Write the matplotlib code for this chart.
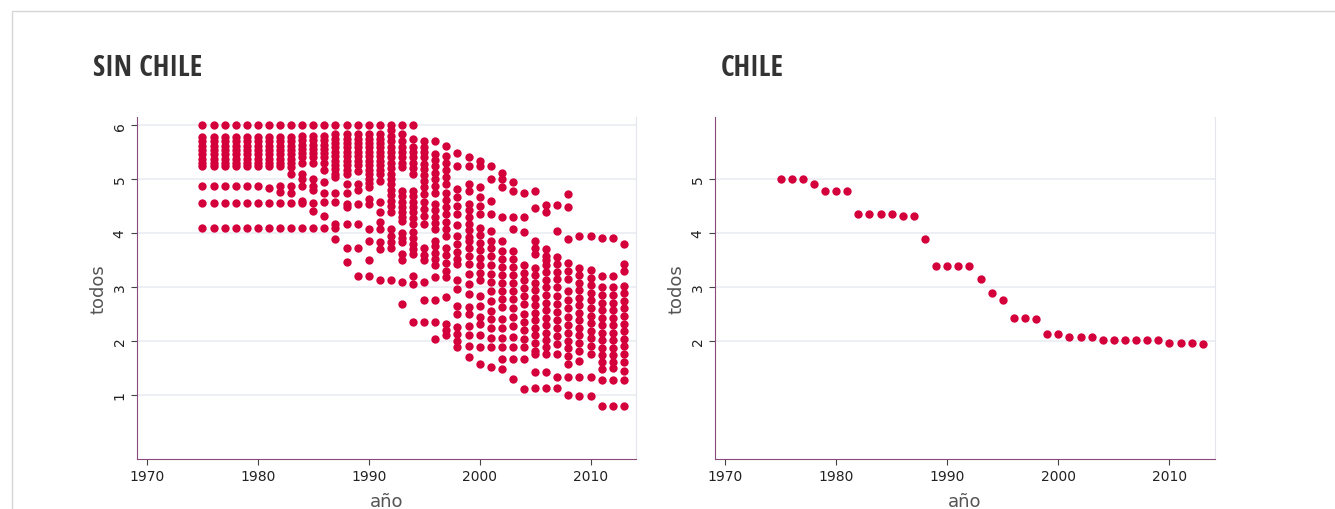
import matplotlib
matplotlib.use("Agg")
import matplotlib.pyplot as plt
from matplotlib import font_manager
from matplotlib.patches import Rectangle

# --- data ---
anios = list(range(1975, 2014))

# "todos" per year for the countries without Chile (one list per year)
sin_chile = [
    [6.0, 5.78, 5.7, 5.62, 5.54, 5.46, 5.38, 5.3, 5.25, 4.88, 4.55, 4.1],  # 1975
    [6.0, 5.78, 5.7, 5.62, 5.54, 5.46, 5.38, 5.3, 5.25, 4.88, 4.55, 4.1],  # 1976
    [6.0, 5.78, 5.7, 5.62, 5.54, 5.46, 5.38, 5.3, 5.25, 4.88, 4.55, 4.1],  # 1977
    [6.0, 5.78, 5.7, 5.62, 5.54, 5.46, 5.38, 5.3, 5.25, 4.88, 4.55, 4.1],  # 1978
    [6.0, 5.78, 5.7, 5.62, 5.54, 5.46, 5.38, 5.3, 5.25, 4.88, 4.55, 4.1],  # 1979
    [6.0, 5.78, 5.7, 5.62, 5.54, 5.46, 5.38, 5.3, 5.25, 4.88, 4.55, 4.1],  # 1980
    [6.0, 5.78, 5.7, 5.62, 5.54, 5.46, 5.38, 5.3, 5.25, 4.84, 4.55, 4.1],  # 1981
    [6.0, 5.78, 5.7, 5.62, 5.54, 5.46, 5.38, 5.3, 5.25, 4.88, 4.76, 4.55, 4.1],  # 1982
    [6.0, 5.78, 5.7, 5.62, 5.54, 5.46, 5.38, 5.3, 5.22, 5.1, 4.88, 4.75, 4.55, 4.1],  # 1983
    [6.0, 5.8, 5.72, 5.64, 5.56, 5.48, 5.4, 5.3, 5.1, 5.0, 4.88, 4.6, 4.55, 4.1],  # 1984
    [6.0, 5.8, 5.72, 5.64, 5.56, 5.48, 5.4, 5.3, 5.0, 4.88, 4.8, 4.55, 4.4, 4.1],  # 1985
    [6.0, 5.8, 5.72, 5.64, 5.56, 5.48, 5.4, 5.3, 5.16, 4.94, 4.75, 4.57, 4.32, 4.1],  # 1986
    [6.0, 5.83, 5.75, 5.67, 5.59, 5.5, 5.42, 5.34, 5.26, 5.18, 5.1, 5.03, 4.75, 4.57, 4.16, 4.1, 3.89],  # 1987
    [6.0, 5.83, 5.75, 5.67, 5.59, 5.5, 5.42, 5.34, 5.26, 5.17, 5.09, 4.91, 4.75, 4.54, 4.48, 4.17, 3.73, 3.46],  # 1988
    [6.0, 5.83, 5.75, 5.67, 5.59, 5.5, 5.42, 5.34, 5.26, 5.14, 4.91, 4.8, 4.54, 4.17, 3.73, 3.21],  # 1989
    [6.0, 5.83, 5.75, 5.67, 5.59, 5.5, 5.42, 5.34, 5.26, 5.17, 5.09, 5.0, 4.92, 4.85, 4.63, 4.54, 4.07, 3.86, 3.5, 3.21],  # 1990
    [6.0, 5.83, 5.75, 5.67, 5.59, 5.5, 5.42, 5.34, 5.26, 5.17, 5.09, 4.97, 4.57, 4.38, 4.2, 4.07, 3.83, 3.7, 3.12],  # 1991
    [6.0, 5.9, 5.8, 5.7, 5.6, 5.5, 5.4, 5.3, 5.2, 5.1, 5.0, 4.9, 4.8, 4.7, 4.6, 4.5, 4.38, 4.07, 3.95, 3.83, 3.73, 3.12],  # 1992
    [6.0, 5.83, 5.71, 5.59, 5.5, 5.4, 5.3, 5.22, 4.78, 4.68, 4.58, 4.48, 4.38, 4.3, 4.23, 4.0, 3.9, 3.83, 3.61, 3.49, 3.09, 2.69],  # 1993
    [6.0, 5.74, 5.59, 5.5, 5.4, 5.3, 5.2, 5.09, 4.78, 4.68, 4.58, 4.48, 4.38, 4.27, 4.17, 4.01, 3.9, 3.8, 3.7, 3.61, 3.21, 3.06, 2.35],  # 1994
    [5.71, 5.6, 5.5, 5.4, 5.28, 5.19, 5.08, 4.97, 4.86, 4.72, 4.57, 4.45, 4.32, 4.17, 3.73, 3.6, 3.49, 3.1, 2.75, 2.35],  # 1995
    [5.71, 5.46, 5.35, 5.24, 5.12, 5.0, 4.87, 4.75, 4.54, 4.42, 4.3, 4.18, 4.07, 3.86, 3.75, 3.63, 3.52, 3.4, 3.18, 2.75, 2.35, 2.04],  # 1996
    [5.62, 5.43, 5.3, 5.17, 5.04, 4.91, 4.75, 4.62, 4.48, 4.35, 4.2, 4.07, 3.95, 3.73, 3.6, 3.45, 3.3, 3.18, 2.81, 2.32, 2.2, 2.1],  # 1997
    [5.48, 5.25, 4.81, 4.66, 4.5, 4.35, 4.14, 3.95, 3.8, 3.65, 3.52, 3.43, 3.12, 2.96, 2.65, 2.5, 2.25, 2.12, 2.0, 1.88],  # 1998
    [5.4, 5.25, 4.91, 4.78, 4.54, 4.42, 4.3, 4.17, 4.05, 3.92, 3.86, 3.72, 3.58, 3.43, 3.24, 3.05, 2.87, 2.62, 2.5, 2.28, 2.1, 1.9, 1.7],  # 1999
    [5.34, 5.25, 4.85, 4.66, 4.5, 4.35, 4.1, 3.96, 3.82, 3.68, 3.54, 3.4, 3.26, 3.12, 2.84, 2.64, 2.44, 2.32, 2.1, 1.88, 1.57],  # 2000
    [5.25, 5.0, 4.6, 4.35, 4.04, 3.86, 3.72, 3.57, 3.4, 3.24, 3.09, 2.92, 2.74, 2.56, 2.41, 2.24, 2.06, 1.88, 1.51],  # 2001
    [5.12, 5.0, 4.85, 4.29, 3.86, 3.67, 3.52, 3.37, 3.22, 3.07, 2.92, 2.77, 2.62, 2.41, 2.24, 2.06, 1.88, 1.67, 1.48],  # 2002
    [4.94, 4.78, 4.29, 4.07, 3.67, 3.52, 3.37, 3.22, 3.07, 2.92, 2.77, 2.6, 2.44, 2.28, 2.08, 1.88, 1.67, 1.3],  # 2003
    [4.75, 4.29, 4.01, 3.4, 3.26, 3.12, 2.98, 2.84, 2.69, 2.5, 2.35, 2.2, 2.04, 1.88, 1.67, 1.11],  # 2004
    [4.77, 4.46, 3.86, 3.73, 3.61, 3.36, 3.22, 3.08, 2.94, 2.8, 2.66, 2.52, 2.38, 2.24, 2.1, 1.96, 1.82, 1.76, 1.43, 1.12],  # 2005
    [4.52, 4.38, 3.7, 3.58, 3.49, 3.41, 3.27, 3.13, 2.99, 2.85, 2.71, 2.57, 2.43, 2.29, 2.15, 2.01, 1.88, 1.76, 1.43, 1.12],  # 2006
    [4.51, 4.04, 3.55, 3.42, 3.28, 3.14, 2.99, 2.84, 2.69, 2.54, 2.39, 2.24, 2.09, 1.94, 1.76, 1.33, 1.12],  # 2007
    [4.72, 4.49, 3.89, 3.44, 3.3, 3.15, 2.93, 2.75, 2.6, 2.45, 2.3, 2.15, 2.0, 1.86, 1.72, 1.57, 1.33, 0.99],  # 2008
    [3.94, 3.36, 3.22, 3.08, 2.94, 2.8, 2.66, 2.52, 2.38, 2.24, 2.1, 1.96, 1.82, 1.63, 1.33, 0.97],  # 2009
    [3.94, 3.31, 3.17, 3.03, 2.89, 2.75, 2.61, 2.47, 2.33, 2.19, 2.05, 1.9, 1.76, 1.33, 0.97],  # 2010
    [3.91, 3.2, 2.99, 2.85, 2.71, 2.57, 2.43, 2.29, 2.15, 2.01, 1.87, 1.73, 1.6, 1.48, 1.28, 0.8],  # 2011
    [3.91, 3.2, 2.99, 2.85, 2.71, 2.57, 2.43, 2.29, 2.15, 2.01, 1.87, 1.73, 1.6, 1.5, 1.27, 0.8],  # 2012
    [3.8, 3.43, 3.3, 3.02, 2.88, 2.74, 2.6, 2.46, 2.32, 2.18, 2.04, 1.9, 1.76, 1.6, 1.45, 1.27, 0.79],  # 2013
]

chile = [5.0, 5.0, 5.0, 4.9, 4.77, 4.77, 4.77, 4.35, 4.35, 4.35, 4.35, 4.31, 4.31,
         3.88, 3.38, 3.38, 3.38, 3.38, 3.15, 2.89, 2.76, 2.43, 2.43, 2.40, 2.12,
         2.12, 2.07, 2.07, 2.07, 2.02, 2.02, 2.01, 2.01, 2.02, 2.01, 1.96, 1.96,
         1.96, 1.94]

xticks = [1970, 1980, 1990, 2000, 2010]
yticks_left = [1, 2, 3, 4, 5, 6]
yticks_right = [2, 3, 4, 5]

dot = '#d4003c'
axis_col = '#8c4a7c'
grid_col = '#e9eef3'
text_col = '#333333'

# narrowest installed family for the condensed headline
installed = {f.name for f in font_manager.fontManager.ttflist}
title_family = ['DejaVu Sans']
for name in ['Liberation Sans Narrow', 'DejaVu Sans Condensed', 'Open Sans Condensed',
             'Roboto Condensed', 'Noto Sans Condensed']:
    if name in installed:
        title_family = [name, 'DejaVu Sans']
        break

fig = plt.figure(figsize=(13.35, 5.1), dpi=100)
fig.add_artist(Rectangle((12 / 1335, -0.1), 1.2, 1 - 12 / 510 + 0.1,
                         transform=fig.transFigure, fill=False,
                         edgecolor='#d6d6d6', linewidth=1))


def style(ax, yt):
    ax.set_xlim(1969.1, 2014.1)
    ax.set_ylim(-0.19, 6.15)
    ax.set_xticks(xticks)
    ax.set_yticks(yt)
    ax.set_yticklabels([str(v) for v in yt], rotation=90, va='center')
    ax.grid(axis='y', color=grid_col, linewidth=1.2)
    ax.set_axisbelow(True)
    ax.spines['top'].set_visible(False)
    ax.spines['right'].set_color('#e3e6ea')
    ax.spines['left'].set_color(axis_col)
    ax.spines['bottom'].set_color(axis_col)
    ax.tick_params(axis='both', colors='#444444', labelcolor='#222222',
                   labelsize=10, length=4, width=0.8)
    ax.set_xlabel('año', fontsize=13, color='#555555', labelpad=6)
    ax.set_ylabel('todos', fontsize=13, color='#555555', labelpad=4)


ax1 = fig.add_axes([137 / 1335, 50 / 510, 499 / 1335, 342 / 510])
for anio, vals in zip(anios, sin_chile):
    ax1.scatter([anio] * len(vals), vals, s=36, color=dot, linewidths=0, zorder=3)
style(ax1, yticks_left)

ax2 = fig.add_axes([715 / 1335, 50 / 510, 500 / 1335, 342 / 510])
ax2.scatter(anios, chile, s=36, color=dot, linewidths=0, zorder=3)
style(ax2, yticks_right)

title_font = dict(family=title_family, fontweight='bold', fontstretch='condensed',
                  fontsize=21, color=text_col, va='center', ha='left')
fig.text(93 / 1335, 1 - 68 / 510, 'SIN CHILE', **title_font)
fig.text(721 / 1335, 1 - 68 / 510, 'CHILE', **title_font)

fig.savefig('out.png', dpi=100)
